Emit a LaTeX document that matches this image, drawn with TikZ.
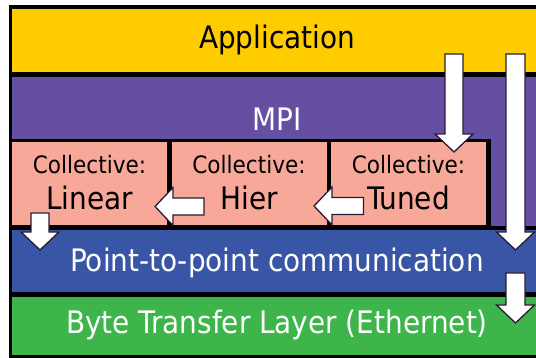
\documentclass[tikz,border=0pt]{standalone}
\usepackage{fontspec}
\setmainfont{DejaVu Sans Condensed}
\usetikzlibrary{calc}

\definecolor{appyellow}{HTML}{FFCC00}
\definecolor{mpipurple}{HTML}{654FA2}
\definecolor{collsalmon}{HTML}{F8A898}
\definecolor{ptpblue}{HTML}{3955A5}
\definecolor{btlgreen}{HTML}{3DB54A}
\definecolor{arrowline}{HTML}{2B1A33}

% fat white arrow: [shaft half width]{from}{to}
\newcommand{\fatarrow}[3][9pt]{%
	\coordinate (base) at ($(#3)!18pt!(#2)$);
	\draw [fat] ($(#2)!#1!90:(#3)$) -- ($(base)!#1!90:(#3)$)
		-- ($(base)!19pt!90:(#3)$) -- (#3) -- ($(base)!19pt!-90:(#3)$)
		-- ($(base)!#1!-90:(#3)$) -- ($(#2)!#1!-90:(#3)$) -- cycle;
}

\begin{document}
\begin{tikzpicture}[x=1pt, y=-1pt,
	fat/.style={draw=arrowline, fill=white, line width=1.3pt, line join=miter},
	collbox/.style={fill=collsalmon, inner sep=0pt, minimum width=155pt, minimum height=83pt},
	bigtext/.style={anchor=base, font=\fontsize{31}{32}\selectfont},
	smalltext/.style={anchor=base, font=\fontsize{24}{25}\selectfont}]
	\clip (0,0) rectangle (536,358);

	% Frame and layers
	\fill [black]		(9,5)		rectangle (560,358);
	\fill [appyellow]	(12,9)		rectangle (560,72);
	\fill [mpipurple]	(12,77)		rectangle (560,226);
	\fill [black]		(12,139)	rectangle (491,230);
	\fill [ptpblue]		(12,230)	rectangle (560,292.5);
	\fill [btlgreen]	(12,297.5)	rectangle (560,355);

	% Collective boxes
	\node [collbox]	(linear)	at (89.5,183.5)	{};
	\node [collbox]	(hier)		at (249,183.5)	{};
	\node [collbox]	(tuned)		at (408.5,183.5)	{};

	% Texts
	\node [bigtext]				(app)	at (277,49)	{Application};
	\node [bigtext, text=white]	(mpi)	at (277,131)	{MPI};
	\node [smalltext]	(linearhead)	at (linear.center |- 0,173.5)	{Collective:};
	\node [smalltext]	(hierhead)		at (hier.center |- 0,173.5)		{Collective:};
	\node [smalltext]	(tunedhead)		at (tuned.center |- 0,173.5)	{Collective:};
	\node [bigtext]		(linearname)	at (linear.center |- 0,210)	{Linear};
	\node [bigtext]		(hiername)		at (hier.center |- 0,210)	{Hier};
	\node [bigtext]		(tunedname)		at (tuned.center |- 0,210)	{Tuned};
	\node [bigtext, text=white]	(ptp)	at (277,272)	{Point-to-point communication};
	\node [bigtext, text=white]	(btl)	at (277,334)	{Byte Transfer Layer (Ethernet)};

	% Arrow ends
	\coordinate (apptop)	at (454,54);
	\coordinate (tunedin)	at (454,152);
	\coordinate (bypass)	at (515.5,54);
	\coordinate (ptpin)		at (515.5,250);
	\coordinate (ptpout)	at (515.5,273);
	\coordinate (btlin)		at (515.5,323);
	\coordinate (linearout)	at (40,213);
	\coordinate (linearptp)	at (40,250);
	\coordinate (hierout)	at (204,206.5);
	\coordinate (linearin)	at (155,206.5);
	\coordinate (tunedout)	at (363.5,206);
	\coordinate (hierin)	at (314,206);

	% Arrows
	\fatarrow{apptop}{tunedin}
	\fatarrow[9.5pt]{bypass}{ptpin}
	\fatarrow[9.5pt]{ptpout}{btlin}
	\fatarrow{linearout}{linearptp}
	\fatarrow[8.5pt]{hierout}{linearin}
	\fatarrow[8.5pt]{tunedout}{hierin}
\end{tikzpicture}
\end{document}
